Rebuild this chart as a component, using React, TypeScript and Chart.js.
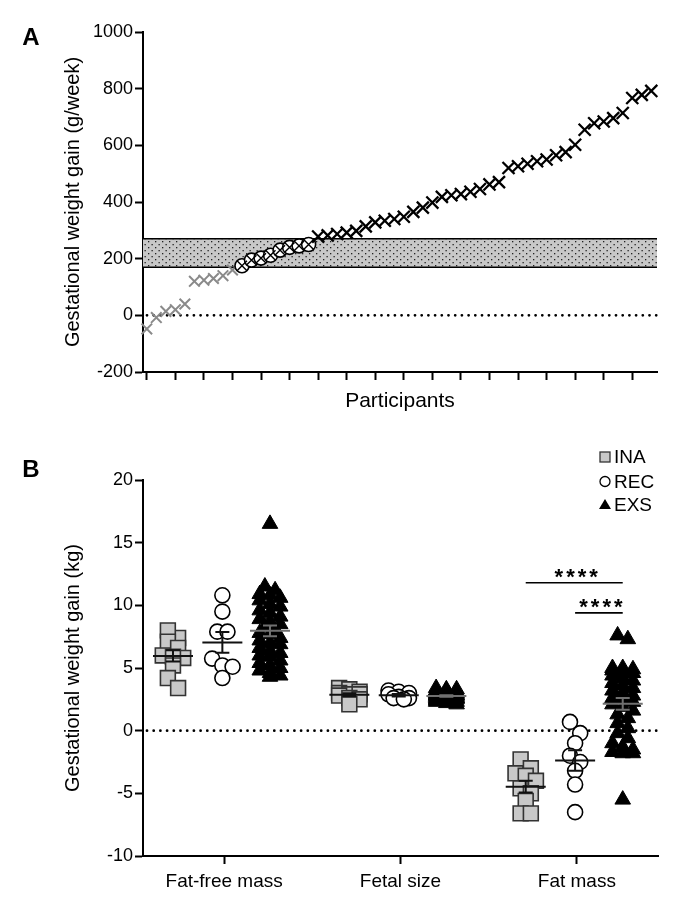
import React, { useEffect, useRef } from 'react';
import { Chart, registerables } from 'chart.js';

Chart.register(...registerables);

const FONT = "'Liberation Sans', Arial, Helvetica, sans-serif";
Chart.defaults.font.family = FONT;
Chart.defaults.color = '#000';

// ---------------- Panel A data ----------------
const GAIN_BELOW = [-48, -8, 14, 20, 40, 120, 124, 130, 140, 160];
const GAIN_WITHIN = [175, 195, 202, 212, 230, 240, 245, 250];
const GAIN_ABOVE = [
  278, 282, 287, 292, 298, 314, 328, 334, 340, 348, 365, 380, 398, 418, 424, 428, 436, 446,
  462, 470, 520, 526, 535, 544, 550, 565, 576, 602, 655, 678, 684, 696, 714, 767, 778, 792,
];
const GUIDELINE_RANGE = [170, 270];
const A_Y_TICKS = [-200, 0, 200, 400, 600, 800, 1000];
const A_X_TICKS = [0, 3, 6, 9, 12, 15, 18, 21, 24, 27, 30, 33, 36, 39, 42, 45, 48, 51];

// ---------------- Panel B data ----------------
const CATEGORIES = ['Fat-free mass', 'Fetal size', 'Fat mass'];
const GROUP_NAMES = ['INA', 'REC', 'EXS'];
const INA_FAT_FREE = [7.4, 8.0, 7.1, 6.6, 5.8, 6.0, 5.9, 5.2, 4.2, 3.4];
const REC_FAT_FREE = [10.8, 9.5, 7.9, 7.9, 5.75, 5.2, 5.1, 4.2];
const EXS_FAT_FREE = [
  16.5, 11.5, 11.2, 10.9, 10.8, 10.6, 10.4, 10.1, 9.9, 9.6, 9.4, 9.1, 8.9, 8.7, 8.5, 8.3, 8.0, 7.8,
  7.7, 7.4, 7.2, 7.0, 6.9, 6.6, 6.4, 6.2, 6.0, 5.9, 5.6, 5.4, 5.2, 5.0, 4.8, 4.6, 4.4, 4.3,
];
const INA_FETAL = [3.4, 3.3, 3.1, 3.0, 2.9, 2.9, 2.8, 2.6, 2.5, 2.1];
const REC_FETAL = [3.2, 3.1, 3.0, 2.9, 2.7, 2.6, 2.6, 2.5];
const EXS_FETAL = [
  3.4, 3.3, 3.3, 3.2, 3.2, 3.1, 3.1, 3.0, 3.0, 3.0, 2.9, 2.9, 2.9, 2.9, 2.8, 2.8, 2.8, 2.8,
  2.8, 2.7, 2.7, 2.7, 2.7, 2.6, 2.6, 2.6, 2.6, 2.5, 2.5, 2.5, 2.4, 2.4, 2.3, 2.3, 2.2, 2.1,
];
const INA_FAT = [-2.3, -3.0, -3.4, -3.6, -4.0, -4.6, -5.0, -5.6, -6.6, -6.6];
const REC_FAT = [0.7, -0.2, -1.0, -2.0, -2.5, -3.2, -4.3, -6.5];
const EXS_FAT = [
  7.6, 7.3, 5.0, 5.0, 4.9, 4.8, 4.7, 4.6, 4.4, 4.2, 4.0, 3.8, 3.6, 3.4, 3.2, 3.0, 2.8, 2.6,
  2.5, 2.3, 2.1, 1.9, 1.6, 1.3, 1.0, 0.6, 0.2, -0.2, -0.6, -1.0, -1.3, -1.5, -1.7, -1.8, -1.8, -5.5,
];
const B_Y_TICKS = [-10, -5, 0, 5, 10, 15, 20];
const SIG_CATEGORY = [2, 2];
const SIG_FROM = [0, 1];
const SIG_TO = [2, 2];
const SIG_LEVEL = [11.8, 9.4];
const SIG_TEXT = ['****', '****'];

const SERIES = [
  [INA_FAT_FREE, INA_FETAL, INA_FAT],
  [REC_FAT_FREE, REC_FETAL, REC_FAT],
  [EXS_FAT_FREE, EXS_FETAL, EXS_FAT],
];

// layout constants (not data)
const GROUP_OFFSET = [-0.29, -0.01, 0.26];
const JITTER_DX = 0.058;
const BIN_H = [0.9, 0.9, 0.5];

function spread(values: number[], binH: number, dx: number, maxPerRow: number): number[] {
  const idx = values.map((_, i) => i).sort((a, b) => values[b] - values[a]);
  const offs = new Array(values.length).fill(0);
  let row: number[] = [];
  const flush = () => {
    const n = row.length;
    row.forEach((k, j) => {
      offs[k] = (j - (n - 1) / 2) * dx;
    });
    row = [];
  };
  for (const k of idx) {
    if (row.length && (values[row[0]] - values[k] > binH || row.length >= maxPerRow)) flush();
    row.push(k);
  }
  flush();
  return offs;
}

function groupPoints(g: number) {
  const pts: { x: number; y: number }[] = [];
  SERIES[g].forEach((vals, c) => {
    const offs = spread(vals, BIN_H[g], JITTER_DX, 3);
    vals.forEach((v, i) => pts.push({ x: c + GROUP_OFFSET[g] + offs[i], y: v }));
  });
  return pts;
}

const gridOpts = {
  display: true,
  drawOnChartArea: false,
  drawTicks: true,
  tickLength: 8,
  tickWidth: 2,
  tickColor: '#000',
};
const borderOpts = { display: true, color: '#000', width: 2 };

function drawDottedZero(chart: any) {
  const { ctx, chartArea, scales } = chart;
  const z = scales.y.getPixelForValue(0);
  ctx.save();
  ctx.strokeStyle = '#000';
  ctx.lineWidth = 2.8;
  ctx.lineCap = 'round';
  ctx.setLineDash([0, 6.7]);
  ctx.beginPath();
  ctx.moveTo(chartArea.left + 4, z);
  ctx.lineTo(chartArea.right, z);
  ctx.stroke();
  ctx.restore();
}

function drawLetter(chart: any, letter: string, x: number, y: number) {
  const ctx = chart.ctx;
  ctx.save();
  ctx.fillStyle = '#000';
  ctx.font = `bold 24px ${FONT}`;
  ctx.textAlign = 'center';
  ctx.textBaseline = 'middle';
  ctx.fillText(letter, x, y);
  ctx.restore();
}

function PanelA() {
  const ref = useRef<HTMLCanvasElement>(null);
  useEffect(() => {
    const canvas = ref.current!;
    const tile = document.createElement('canvas');
    tile.width = 7;
    tile.height = 6;
    const t = tile.getContext('2d')!;
    t.fillStyle = '#c8c8c8';
    t.fillRect(0, 0, 7, 6);
    t.fillStyle = '#222';
    t.fillRect(1, 1, 1.3, 1.3);
    t.fillRect(4.5, 4, 1.3, 1.3);
    const pattern = canvas.getContext('2d')!.createPattern(tile, 'repeat');

    const bandPlugin = {
      id: 'bandA',
      beforeDatasetsDraw(chart: any) {
        const { ctx, chartArea, scales } = chart;
        const top = scales.y.getPixelForValue(GUIDELINE_RANGE[1]);
        const bot = scales.y.getPixelForValue(GUIDELINE_RANGE[0]);
        ctx.save();
        ctx.fillStyle = pattern;
        ctx.fillRect(chartArea.left, top, chartArea.right - chartArea.left, bot - top);
        ctx.strokeStyle = '#000';
        ctx.lineWidth = 1.5;
        ctx.beginPath();
        ctx.moveTo(chartArea.left, top);
        ctx.lineTo(chartArea.right, top);
        ctx.moveTo(chartArea.left, bot);
        ctx.lineTo(chartArea.right, bot);
        ctx.stroke();
        ctx.restore();
        drawDottedZero(chart);
      },
      afterDraw(chart: any) {
        drawLetter(chart, 'A', 31, 38);
      },
    };

    const nBelow = GAIN_BELOW.length;
    const nWithin = GAIN_WITHIN.length;
    const chart = new Chart(canvas, {
      type: 'scatter',
      data: {
        datasets: [
          {
            label: 'below',
            data: GAIN_BELOW.map((v, i) => ({ x: i, y: v })),
            pointStyle: 'crossRot',
            pointRadius: 7.5,
            borderColor: '#8a8a8a',
            backgroundColor: '#8a8a8a',
            borderWidth: 2,
            clip: false,
            order: 3,
          },
          {
            label: 'within-circle',
            data: GAIN_WITHIN.map((v, i) => ({ x: nBelow + i, y: v })),
            pointStyle: 'circle',
            pointRadius: 7,
            borderColor: '#000',
            backgroundColor: '#fff',
            borderWidth: 1.6,
            clip: false,
            order: 2,
          },
          {
            label: 'within-cross',
            data: GAIN_WITHIN.map((v, i) => ({ x: nBelow + i, y: v })),
            pointStyle: 'crossRot',
            pointRadius: 7,
            borderColor: '#000',
            backgroundColor: '#000',
            borderWidth: 1.4,
            clip: false,
            order: 1,
          },
          {
            label: 'above',
            data: GAIN_ABOVE.map((v, i) => ({ x: nBelow + nWithin + i, y: v })),
            pointStyle: 'crossRot',
            pointRadius: 8.5,
            borderColor: '#000',
            backgroundColor: '#000',
            borderWidth: 2.3,
            clip: false,
            order: 0,
          },
        ],
      },
      options: {
        animation: false,
        responsive: false,
        events: [],
        layout: { padding: { top: 32, right: 20, left: 0, bottom: 0 } },
        plugins: { legend: { display: false }, tooltip: { enabled: false } },
        scales: {
          x: {
            type: 'linear',
            min: -0.4,
            max: 53.6,
            afterBuildTicks: (s: any) => {
              s.ticks = A_X_TICKS.map((v) => ({ value: v }));
            },
            afterFit: (s: any) => {
              s.height = 58;
            },
            ticks: { autoSkip: false, callback: () => '', font: { size: 18 } },
            grid: gridOpts,
            border: borderOpts,
            title: {
              display: true,
              text: 'Participants',
              color: '#000',
              font: { size: 21 },
              padding: { top: 0, bottom: 16 },
            },
          },
          y: {
            min: -200,
            max: 1000,
            afterBuildTicks: (s: any) => {
              s.ticks = A_Y_TICKS.map((v) => ({ value: v }));
            },
            afterFit: (s: any) => {
              s.width = 143;
            },
            ticks: {
              autoSkip: false,
              callback: (v: any) => String(v),
              font: { size: 18 },
              color: '#000',
              padding: 2,
            },
            grid: gridOpts,
            border: borderOpts,
            title: {
              display: true,
              text: 'Gestational weight gain (g/week)',
              color: '#000',
              font: { size: 20 },
              padding: { top: 61, bottom: 0 },
            },
          },
        },
      },
      plugins: [bandPlugin],
    });
    return () => chart.destroy();
  }, []);
  return (
    <canvas
      ref={ref}
      width={677}
      height={430}
      style={{ position: 'absolute', left: 0, top: 0, width: 677, height: 430 }}
    />
  );
}

function PanelB() {
  const ref = useRef<HTMLCanvasElement>(null);
  useEffect(() => {
    const canvas = ref.current!;
    const summaryPlugin = {
      id: 'summaryB',
      beforeDatasetsDraw(chart: any) {
        drawDottedZero(chart);
      },
      afterDatasetsDraw(chart: any) {
        const { ctx, scales } = chart;
        const { x, y } = scales;
        ctx.save();
        SERIES.forEach((cats, g) => {
          cats.forEach((vals, c) => {
            const n = vals.length;
            const m = vals.reduce((a, b) => a + b, 0) / n;
            const sd = Math.sqrt(vals.reduce((a, b) => a + (b - m) * (b - m), 0) / (n - 1));
            const sem = sd / Math.sqrt(n);
            const cx = x.getPixelForValue(c + GROUP_OFFSET[g]);
            const ym = y.getPixelForValue(m);
            const yt = y.getPixelForValue(m + sem);
            const yb = y.getPixelForValue(m - sem);
            ctx.strokeStyle = g === 2 ? '#707070' : '#111';
            ctx.lineWidth = 2;
            ctx.beginPath();
            ctx.moveTo(cx - 20, ym);
            ctx.lineTo(cx + 20, ym);
            ctx.moveTo(cx, yt);
            ctx.lineTo(cx, yb);
            ctx.moveTo(cx - 7, yt);
            ctx.lineTo(cx + 7, yt);
            ctx.moveTo(cx - 7, yb);
            ctx.lineTo(cx + 7, yb);
            ctx.stroke();
          });
        });
        // significance bars
        SIG_LEVEL.forEach((lvl, k) => {
          const c = SIG_CATEGORY[k];
          const x1 = x.getPixelForValue(c + GROUP_OFFSET[SIG_FROM[k]]);
          const x2 = x.getPixelForValue(c + GROUP_OFFSET[SIG_TO[k]]);
          const yy = y.getPixelForValue(lvl);
          ctx.strokeStyle = '#000';
          ctx.lineWidth = 1.6;
          ctx.beginPath();
          ctx.moveTo(x1, yy);
          ctx.lineTo(x2, yy);
          ctx.stroke();
          ctx.fillStyle = '#000';
          ctx.font = `bold 22px ${FONT}`;
          ctx.textAlign = 'center';
          ctx.textBaseline = 'alphabetic';
          (ctx as any).letterSpacing = '3px';
          ctx.fillText(SIG_TEXT[k], (x1 + x2) / 2 + 3.5, yy + 1);
          (ctx as any).letterSpacing = '0px';
        });
        ctx.restore();
      },
      afterDraw(chart: any) {
        const ctx = chart.ctx;
        drawLetter(chart, 'B', 31, 40);
        // legend
        const ix = 605;
        const tx = 614;
        const rows = [27, 51.5, 74.5];
        ctx.save();
        // INA square
        ctx.fillStyle = '#c8c8c8';
        ctx.strokeStyle = '#333';
        ctx.lineWidth = 1.3;
        ctx.fillRect(ix - 5, rows[0] - 5, 10, 10);
        ctx.strokeRect(ix - 5, rows[0] - 5, 10, 10);
        // REC circle
        ctx.fillStyle = '#fff';
        ctx.strokeStyle = '#000';
        ctx.beginPath();
        ctx.arc(ix, rows[1], 5, 0, Math.PI * 2);
        ctx.fill();
        ctx.stroke();
        // EXS triangle
        ctx.fillStyle = '#000';
        ctx.beginPath();
        ctx.moveTo(ix, rows[2] - 5.5);
        ctx.lineTo(ix + 6, rows[2] + 4.5);
        ctx.lineTo(ix - 6, rows[2] + 4.5);
        ctx.closePath();
        ctx.fill();
        ctx.font = `19px ${FONT}`;
        ctx.textAlign = 'left';
        ctx.textBaseline = 'middle';
        GROUP_NAMES.forEach((nm, i) => ctx.fillText(nm, tx, rows[i] + 1));
        ctx.restore();
      },
    };

    const chart = new Chart(canvas, {
      type: 'scatter',
      data: {
        datasets: [
          {
            label: GROUP_NAMES[0],
            data: groupPoints(0),
            pointStyle: 'rect',
            pointRadius: 10.5,
            backgroundColor: '#c8c8c8',
            borderColor: '#333',
            borderWidth: 1.6,
            clip: false,
            order: 2,
          },
          {
            label: GROUP_NAMES[1],
            data: groupPoints(1),
            pointStyle: 'circle',
            pointRadius: 7.5,
            backgroundColor: '#fff',
            borderColor: '#000',
            borderWidth: 1.6,
            clip: false,
            order: 1,
          },
          {
            label: GROUP_NAMES[2],
            data: groupPoints(2),
            pointStyle: 'triangle',
            pointRadius: 9,
            backgroundColor: '#000',
            borderColor: '#000',
            borderWidth: 1,
            clip: false,
            order: 0,
          },
        ],
      },
      options: {
        animation: false,
        responsive: false,
        events: [],
        layout: { padding: { top: 50, right: 19, left: 0, bottom: 0 } },
        plugins: { legend: { display: false }, tooltip: { enabled: false } },
        scales: {
          x: {
            type: 'linear',
            min: -0.46,
            max: 2.46,
            afterBuildTicks: (s: any) => {
              s.ticks = CATEGORIES.map((_, i) => ({ value: i }));
            },
            afterFit: (s: any) => {
              s.height = 54;
            },
            ticks: {
              autoSkip: false,
              maxRotation: 0,
              callback: (v: any) => CATEGORIES[Math.round(Number(v))] ?? '',
              font: { size: 19 },
              color: '#000',
              padding: 6,
            },
            grid: gridOpts,
            border: borderOpts,
          },
          y: {
            min: -10,
            max: 20,
            afterBuildTicks: (s: any) => {
              s.ticks = B_Y_TICKS.map((v) => ({ value: v }));
            },
            afterFit: (s: any) => {
              s.width = 143;
            },
            ticks: {
              autoSkip: false,
              callback: (v: any) => String(v),
              font: { size: 18 },
              color: '#000',
              padding: 2,
            },
            grid: gridOpts,
            border: borderOpts,
            title: {
              display: true,
              text: 'Gestational weight gain (kg)',
              color: '#000',
              font: { size: 20 },
              padding: { top: 61, bottom: 0 },
            },
          },
        },
      },
      plugins: [summaryPlugin],
    });
    return () => chart.destroy();
  }, []);
  return (
    <canvas
      ref={ref}
      width={677}
      height={480}
      style={{ position: 'absolute', left: 0, top: 430, width: 677, height: 480 }}
    />
  );
}

export default function App() {
  return (
    <div
      style={{
        position: 'absolute',
        left: 0,
        top: 0,
        width: 677,
        height: 910,
        background: '#fff',
        overflow: 'hidden',
      }}
    >
      <PanelA />
      <PanelB />
    </div>
  );
}
